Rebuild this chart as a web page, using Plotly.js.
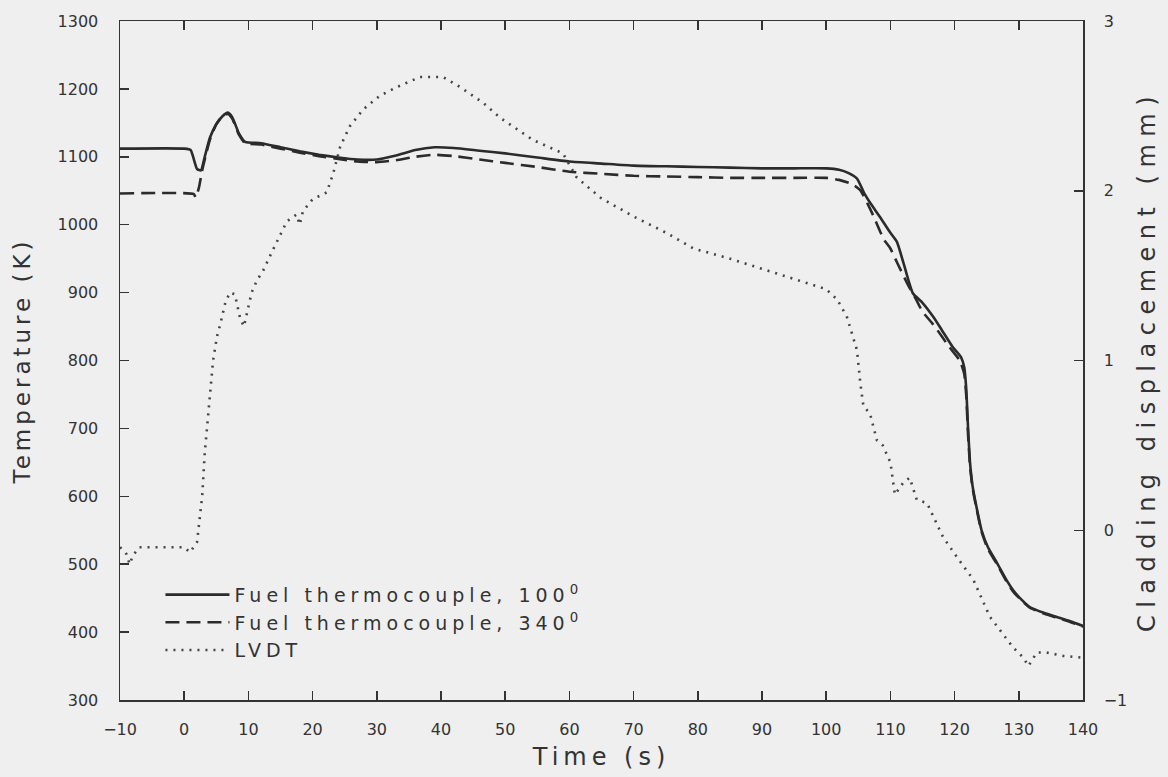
<!DOCTYPE html>
<html>
<head>
<meta charset="utf-8">
<script src="https://cdn.plot.ly/plotly-3.0.1.min.js"></script>
<style>
html,body{margin:0;padding:0;background:#efefef;}
#chart{width:1168px;height:777px;}
.xtitle{letter-spacing:5px;}
.ytitle{letter-spacing:4px;}
.y2title{letter-spacing:7.5px;}
.legendtext{letter-spacing:5px;}
</style>
</head>
<body>
<div id="chart"></div>
<script>
// Fuel thermocouple, 100 deg (time s, temperature K)
var tc100Time = [-10,0,1,2,2.6,3.2,4,5,6,6.8,7.5,8.5,9.5,12,15,18,21,24,27,30,33,36,39,42,46,50,55,60,65,70,75,80,85,90,95,100,102,103.5,104.8,106,107,108.4,110,111,112,113.5,115,116.7,118,119.7,121,121.5,121.8,122.1,122.4,122.8,123.5,124.2,125.2,126.6,128,129.1,130.5,131.7,134,136,138,140];
var tc100Temp = [1112,1112,1110,1082,1080,1100,1128,1148,1160,1165,1158,1135,1122,1120,1114,1108,1103,1099,1096,1096,1102,1110,1114,1113,1109,1105,1099,1093,1090,1087,1086,1085,1084,1083,1083,1083,1081,1076,1068,1045,1030,1011,988,975,945,899,885,864,845,820,805,790,760,700,650,615,580,550,525,502,478,462,447,437,428,422,416,409];

// Fuel thermocouple, 340 deg
var tc340Time = [-10,1.5,1.8,2.3,2.8,3.3,4,5,6,6.8,7.5,8.5,9.5,12,15,18,21,24,27,30,33,36,39,42,46,50,55,60,65,70,75,80,85,90,95,100,102,104,105.3,106.5,107.5,108.4,109,110,111,112.6,114,115,116.5,117.3,119,120.8,121.5,121.8,122.1,122.4,122.8,123.5,124.2,125.2,126.6,128,129.1,130.5,131.7,134,136,138,140];
var tc340Temp = [1046,1045,1040,1055,1080,1100,1125,1148,1160,1163,1156,1133,1120,1118,1112,1106,1101,1097,1093,1092,1095,1100,1103,1101,1096,1091,1085,1078,1075,1072,1071,1070,1069,1069,1069,1069,1066,1060,1051,1030,1010,990,978,965,945,914,890,872,855,845,822,800,780,750,690,645,612,578,548,522,500,476,460,446,436,427,421,415,408];

// LVDT cladding displacement (time s, mm)
var lvdtTime = [-10,-9,-8.5,-8,-7,-5,-3,-1,0,0.9,1.5,2,2.5,2.8,3.2,3.5,4,4.5,5.1,5.6,6.4,7.1,7.9,8.7,9.3,9.8,10.5,11.3,12.3,13.8,16,17.5,18,18.5,20,22.2,23.2,24.3,25.8,27.9,30.5,33.1,36.7,40.3,43,46.5,49.2,54.3,59,61.1,64.8,69.9,75.2,79.3,85,90,95,100,101.7,103.2,104.8,105.3,105.8,106.8,107.9,108.8,110,110.7,112,113,114.1,115.7,116.7,118.2,120.4,122.9,125.5,127.5,129.1,130.7,131.5,132.8,134.3,136.9,139.8];
var lvdtDisp = [-0.10,-0.14,-0.2,-0.15,-0.1,-0.1,-0.1,-0.1,-0.1,-0.13,-0.1,-0.07,0.10,0.2,0.455,0.59,0.81,1.0,1.14,1.21,1.34,1.40,1.39,1.25,1.20,1.28,1.40,1.47,1.53,1.65,1.82,1.86,1.8,1.88,1.95,1.99,2.1,2.26,2.38,2.48,2.56,2.61,2.67,2.67,2.61,2.52,2.43,2.30,2.22,2.08,1.96,1.85,1.75,1.66,1.60,1.54,1.48,1.42,1.36,1.26,1.06,0.87,0.73,0.69,0.53,0.50,0.40,0.21,0.28,0.31,0.18,0.16,0.08,-0.04,-0.16,-0.29,-0.51,-0.61,-0.69,-0.75,-0.8,-0.72,-0.72,-0.74,-0.75];

var xTicks = [-10,0,10,20,30,40,50,60,70,80,90,100,110,120,130,140];
var yTicks = [300,400,500,600,700,800,900,1000,1100,1200,1300];
var y2Ticks = [-1,0,1,2,3];

var ink = '#2b2b2b';
var font = 'DejaVu Sans, sans-serif';

var traces = [
  {x: tc100Time, y: tc100Temp, type: 'scatter', mode: 'lines', name: 'Fuel thermocouple, 100<sup>0</sup>',
   line: {color: ink, width: 2.6, shape: 'spline', smoothing: 0.5}},
  {x: tc340Time, y: tc340Temp, type: 'scatter', mode: 'lines', name: 'Fuel thermocouple, 340<sup>0</sup>',
   line: {color: ink, width: 2.6, dash: '14px,7px', shape: 'spline', smoothing: 0.5}},
  {x: lvdtTime, y: lvdtDisp, type: 'scatter', mode: 'lines', name: 'LVDT', yaxis: 'y2',
   line: {color: '#444', width: 2.6, dash: '2px,6px'}}
];

var axisCommon = {
  showgrid: false, zeroline: false, showline: true, linecolor: '#333', linewidth: 1.5,
  ticks: 'inside', ticklen: 9, tickwidth: 1.5, tickcolor: '#333',
  tickfont: {family: font, size: 16, color: '#333'}
};

var layout = {
  width: 1168, height: 777,
  paper_bgcolor: '#efefef', plot_bgcolor: '#efefef',
  margin: {l: 120, r: 85, t: 21, b: 77},
  font: {family: font, color: '#333'},
  showlegend: true,
  legend: {x: 0.042, y: 0.183, xanchor: 'left', yanchor: 'top', bgcolor: 'rgba(0,0,0,0)',
           font: {family: font, size: 19, color: '#333'}, itemwidth: 64, tracegroupgap: 0},
  xaxis: Object.assign({}, axisCommon, {
    range: [-10, 140], tickvals: xTicks, mirror: 'ticks', ticklabelstandoff: 14,
    title: {text: 'Time (s)', font: {family: font, size: 24, color: '#333'}, standoff: 10}
  }),
  yaxis: Object.assign({}, axisCommon, {
    range: [300, 1300], tickvals: yTicks, mirror: false, ticklabelstandoff: 17,
    title: {text: 'Temperature (K)', font: {family: font, size: 23, color: '#333'}, standoff: 20}
  }),
  yaxis2: Object.assign({}, axisCommon, {
    range: [-1, 3], tickvals: y2Ticks, overlaying: 'y', side: 'right', ticklabelstandoff: 16,
    title: {text: 'Cladding displacement (mm)', font: {family: font, size: 24, color: '#333'}, standoff: 12}
  })
};

Plotly.newPlot('chart', traces, layout, {staticPlot: true, displayModeBar: false});
</script>
</body>
</html>
